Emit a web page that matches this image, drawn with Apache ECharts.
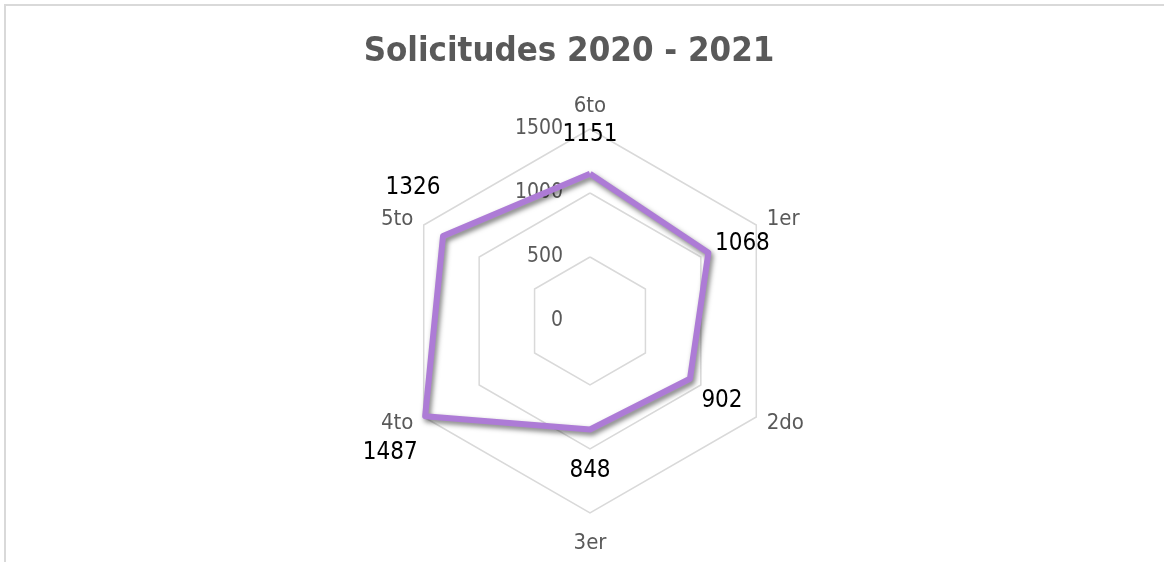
<!DOCTYPE html>
<html>
<head>
<meta charset="utf-8">
<script src="https://cdn.jsdelivr.net/npm/echarts@6/dist/echarts.min.js"></script>
<style>
  html, body { margin: 0; padding: 0; background: #fff; }
  #frame { position: absolute; left: 4px; top: 4px; right: -10px; bottom: -10px; border-top: 2px solid #d9d9d9; border-left: 2px solid #d9d9d9; }
  #main { position: absolute; left: 0; top: 0; width: 1164px; height: 562px; }
</style>
</head>
<body>
<div id="frame"></div>
<div id="main"></div>
<script>
// radar goes counterclockwise from the top
const categories = ['6to', '5to', '4to', '3er', '2do', '1er'];
const values = [1151, 1326, 1487, 848, 902, 1068];
const maxValue = 1500;
// where each value label sits relative to its point
const labelOffsets = [[0, -39], [-30, -48], [-35, 37], [0, 41], [32, 22], [34, -9]];

const font = "'DejaVu Sans Condensed', 'DejaVu Sans', sans-serif";
const chart = echarts.init(document.getElementById('main'), null, { renderer: 'canvas' });

const tickLabel = {
  show: true,
  color: '#595959',
  fontFamily: font,
  fontSize: 21,
  margin: 27,
  padding: [6, 0, 0, 0],
  formatter: function (v) { return String(v); }
};

const indicator = categories.map(function (name, i) {
  const ind = { name: name, max: maxValue, min: 0 };
  if (i === 0) {
    ind.axisLabel = tickLabel;
  }
  return ind;
});

const series = [{
  type: 'radar',
  symbol: 'none',
  z: 2,
  lineStyle: {
    color: '#ad7bd6',
    width: 6,
    shadowColor: 'rgba(0,0,0,0.5)',
    shadowBlur: 5,
    shadowOffsetX: 2,
    shadowOffsetY: 3
  },
  data: [{ value: values }]
}];

// one label-only series per point so each value label can sit on its own side
labelOffsets.forEach(function (off, i) {
  series.push({
    type: 'radar',
    symbol: 'circle',
    symbolSize: 1,
    z: 3,
    silent: true,
    itemStyle: { color: 'transparent' },
    lineStyle: { opacity: 0 },
    label: {
      show: true,
      position: 'inside',
      offset: off,
      color: '#000',
      fontFamily: font,
      fontSize: 24,
      formatter: function (p) { return p.value === values[i] ? String(values[i]) : ''; }
    },
    data: [{ value: values }]
  });
});

const option = {
  animation: false,
  title: {
    text: 'Solicitudes 2020 - 2021',
    left: 564,
    top: 30,
    textAlign: 'center',
    textStyle: { fontFamily: font, fontWeight: 'bold', fontSize: 34.5, color: '#595959' }
  },
  radar: {
    center: [590, 321],
    radius: 192,
    startAngle: 90,
    shape: 'polygon',
    splitNumber: 3,
    indicator: indicator,
    axisName: { color: '#595959', fontFamily: font, fontSize: 22, padding: [7, 0, 0, 0] },
    nameGap: 12,
    axisLine: { show: false },
    axisTick: { show: false },
    axisLabel: { show: false },
    splitLine: { lineStyle: { color: '#d9d9d9', width: 1.5 } },
    splitArea: { show: false }
  },
  series: series
};
chart.setOption(option);
</script>
</body>
</html>
